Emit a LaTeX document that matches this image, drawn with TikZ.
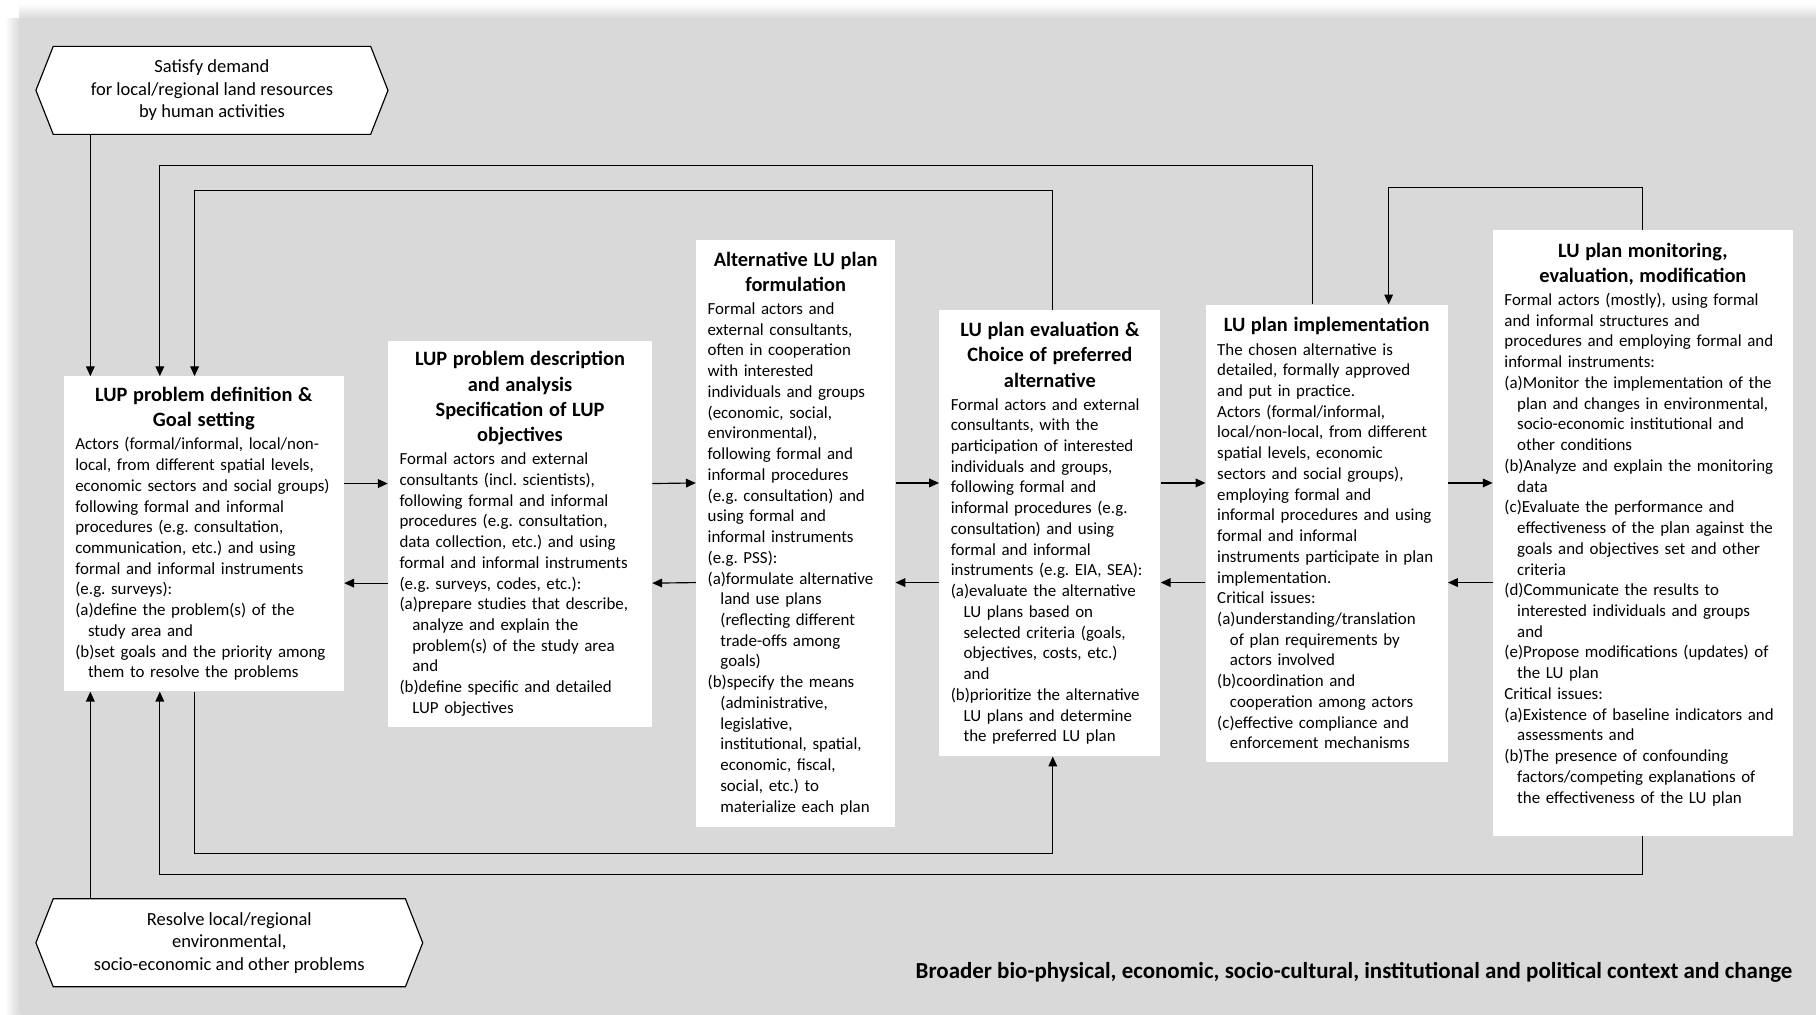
\documentclass[tikz,border=0pt]{standalone}
\usepackage{fontspec}
\setmainfont{Carlito}
\usetikzlibrary{arrows.meta, shapes.symbols, positioning}
\definecolor{bggray}{RGB}{217,217,217}
\newcommand{\stagehead}[1]{{\centering\fontsize{17.6}{21.8}\selectfont\bfseries #1\par}\vspace{2pt}}
\newcommand{\subline}{\hspace*{11pt}}
\frenchspacing

\begin{document}
\begin{tikzpicture}[
  x=1pt, y=-1pt,
  stage/.style={fill=white, inner xsep=10pt, inner ysep=3pt, align=left,
    font=\fontsize{14.6}{17.9}\selectfont},
  goal/.style={draw, fill=white, line width=1pt, signal, signal to=west and east,
    signal pointer angle=137, inner sep=1pt, align=center,
    font=\fontsize{16}{19.5}\selectfont},
  arr/.style={line width=1pt, -{Triangle[length=8.5pt, width=7.5pt]}}
]
  \useasboundingbox (0,0) rectangle (1568,876);

  % Background panel with soft edge
  \fill[white] (0,0) rectangle (1568,876);
  \shade[left color=white, right color=bggray] (4,16) rectangle (17,876);
  \shade[top color=white, bottom color=bggray] (17,3) rectangle (1568,16);
  \fill[bggray] (17,16) rectangle (1568,876);

  % Driving goals
  \node[goal, minimum width=304, minimum height=76] (demand) at (183,78) {
    Satisfy demand\\ for local/regional land resources\\ by human activities};
  \node[goal, minimum width=334, minimum height=76] (problems) at (198,814) {
    Resolve local/regional\\ environmental,\\ socio-economic and other problems};

  % Planning stages
  \node[stage, text width=222, minimum height=272] (define) at (176,461) {
    \stagehead{LUP problem definition \&\\ Goal setting}
    Actors (formal/informal, local/non-\\
    local, from different spatial levels,\\
    economic sectors and social groups)\\
    following formal and informal\\
    procedures (e.g. consultation,\\
    communication, etc.) and using\\
    formal and informal instruments\\
    (e.g. surveys):\\
    (a)define the problem(s) of the\\
    \subline study area and\\
    (b)set goals and the priority among\\
    \subline them to resolve the problems};

  \node[stage, text width=208, minimum height=334] (describe) at (449,461) {
    \stagehead{LUP problem description\\ and analysis\\ Specification of LUP\\ objectives}
    Formal actors and external\\
    consultants (incl. scientists),\\
    following formal and informal\\
    procedures (e.g. consultation,\\
    data collection, etc.) and using\\
    formal and informal instruments\\
    (e.g. surveys, codes, etc.):\\
    (a)prepare studies that describe,\\
    \subline analyze and explain the\\
    \subline problem(s) of the study area\\
    \subline and\\
    (b)define specific and detailed\\
    \subline LUP objectives};

  \node[stage, text width=152, minimum height=507] (formulate) at (687,460.5) {
    \stagehead{Alternative LU plan\\ formulation}
    Formal actors and\\
    external consultants,\\
    often in cooperation\\
    with interested\\
    individuals and groups\\
    (economic, social,\\
    environmental),\\
    following formal and\\
    informal procedures\\
    (e.g. consultation) and\\
    using formal and\\
    informal instruments\\
    (e.g. PSS):\\
    (a)formulate alternative\\
    \subline land use plans\\
    \subline (reflecting different\\
    \subline trade-offs among\\
    \subline goals)\\
    (b)specify the means\\
    \subline (administrative,\\
    \subline legislative,\\
    \subline institutional, spatial,\\
    \subline economic, fiscal,\\
    \subline social, etc.) to\\
    \subline materialize each plan};

  \node[stage, text width=171, minimum height=385] (evaluate) at (906.5,460.5) {
    \stagehead{LU plan evaluation \&\\ Choice of preferred\\ alternative}
    Formal actors and external\\
    consultants, with the\\
    participation of interested\\
    individuals and groups,\\
    following formal and\\
    informal procedures (e.g.\\
    consultation) and using\\
    formal and informal\\
    instruments (e.g. EIA, SEA):\\
    (a)evaluate the alternative\\
    \subline LU plans based on\\
    \subline selected criteria (goals,\\
    \subline objectives, costs, etc.)\\
    \subline and\\
    (b)prioritize the alternative\\
    \subline LU plans and determine\\
    \subline the preferred LU plan};

  \node[stage, text width=189, minimum height=395] (implement) at (1145.5,460.5) {
    \stagehead{LU plan implementation}
    The chosen alternative is\\
    detailed, formally approved\\
    and put in practice.\\
    Actors (formal/informal,\\
    local/non-local, from different\\
    spatial levels, economic\\
    sectors and social groups),\\
    employing formal and\\
    informal procedures and using\\
    formal and informal\\
    instruments participate in plan\\
    implementation.\\
    Critical issues:\\
    (a)understanding/translation\\
    \subline of plan requirements by\\
    \subline actors involved\\
    (b)coordination and\\
    \subline cooperation among actors\\
    (c)effective compliance and\\
    \subline enforcement mechanisms};

  \node[stage, text width=239, minimum height=523] (monitor) at (1418.5,460.5) {
    \stagehead{LU plan monitoring,\\ evaluation, modification}
    Formal actors (mostly), using formal\\
    and informal structures and\\
    procedures and employing formal and\\
    informal instruments:\\
    (a)Monitor the implementation of the\\
    \subline plan and changes in environmental,\\
    \subline socio-economic institutional and\\
    \subline other conditions\\
    (b)Analyze and explain the monitoring\\
    \subline data\\
    (c)Evaluate the performance and\\
    \subline effectiveness of the plan against the\\
    \subline goals and objectives set and other\\
    \subline criteria\\
    (d)Communicate the results to\\
    \subline interested individuals and groups\\
    \subline and\\
    (e)Propose modifications (updates) of\\
    \subline the LU plan\\
    Critical issues:\\
    (a)Existence of baseline indicators and\\
    \subline assessments and\\
    (b)The presence of confounding\\
    \subline factors/competing explanations of\\
    \subline the effectiveness of the LU plan\par\mbox{}};

  % Forward and backward links between stages
  \draw[arr] ([yshift=43.5]define.east) -- ([yshift=43.5]describe.west);
  \draw[arr] ([yshift=-42.5]describe.west) -- ([yshift=-42.5]define.east);
  \draw[arr] ([yshift=43.5]describe.east) -- ([yshift=43.5]formulate.west);
  \draw[arr] ([yshift=-42.5]formulate.west) -- ([yshift=-42.5]describe.east);
  \draw[arr] ([yshift=43.5]formulate.east) -- ([yshift=43.5]evaluate.west);
  \draw[arr] ([yshift=-42.5]evaluate.west) -- ([yshift=-42.5]formulate.east);
  \draw[arr] ([yshift=43.5]evaluate.east) -- ([yshift=43.5]implement.west);
  \draw[arr] ([yshift=-42.5]implement.west) -- ([yshift=-42.5]evaluate.east);
  \draw[arr] ([yshift=43.5]implement.east) -- ([yshift=43.5]monitor.west);
  \draw[arr] ([yshift=-42.5]monitor.west) -- ([yshift=-42.5]implement.east);

  % Goals into the first stage
  \draw[arr] ([xshift=-105]demand.south) -- ([xshift=-98]define.north);
  \draw[arr] ([xshift=-120]problems.north) -- ([xshift=-98]define.south);

  % Feedback loops above
  \draw[arr] ([xshift=-12.5]implement.north) -- ++(0,-120) -| ([xshift=-38]define.north);
  \draw[arr] ([xshift=2.5]evaluate.north) -- ++(0,-103) -| ([xshift=-8]define.north);
  \draw[arr] (monitor.north) -- ++(0,-37) -| ([xshift=53.5]implement.north);

  % Feedback loops below
  \draw[arr] ([xshift=-8]define.south) -- ++(0,140) -| ([xshift=2.5]evaluate.south);
  \draw[arr] (monitor.south) -- ++(0,33) -| ([xshift=-38]define.south);

  % Context
  \node[font=\fontsize{19.8}{24}\selectfont\bfseries, anchor=east] (context) at (1551,840)
    {Broader bio-physical, economic, socio-cultural, institutional and political context and change};
\end{tikzpicture}
\end{document}
